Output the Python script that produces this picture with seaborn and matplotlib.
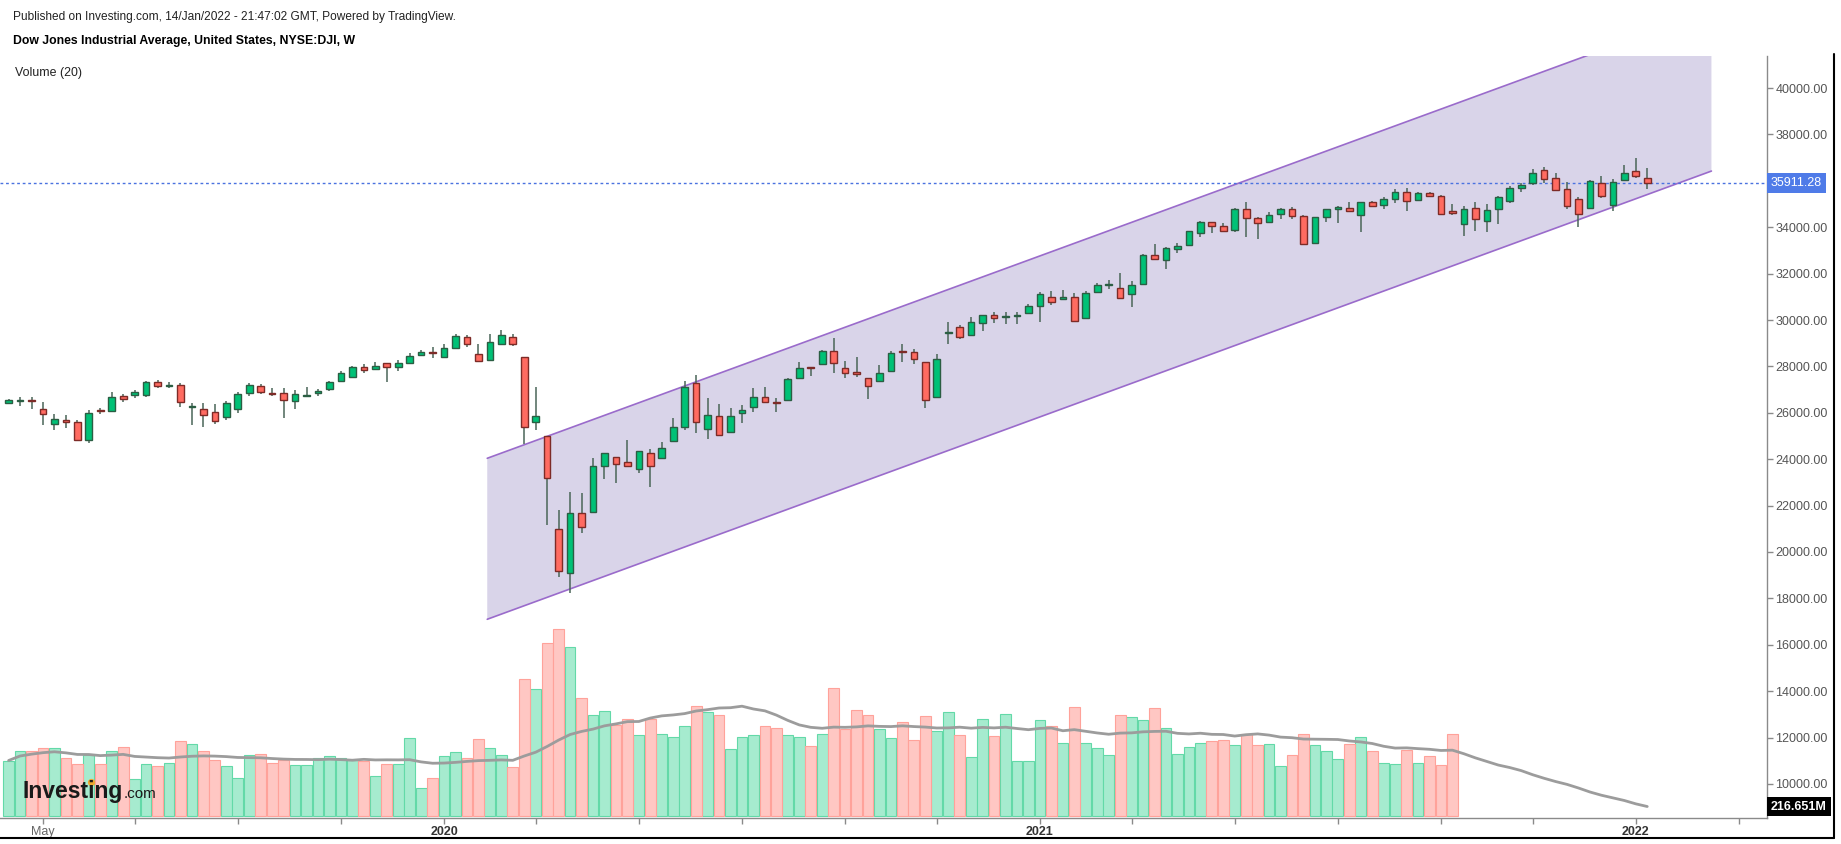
import numpy as np
import pandas as pd
import matplotlib
matplotlib.use('Agg')
from matplotlib import pyplot as plt
from matplotlib.patches import Polygon
from matplotlib.lines import Line2D
import matplotlib.transforms as mtrans
import seaborn as sns

sns.set_theme(style='white')
plt.rcParams['font.family'] = ['Liberation Sans', 'DejaVu Sans']

# weekly bars of the Dow, first bar = week of 15 Apr 2019
first_week = '2019-04-15'

opens = [26410, 26500, 26557, 26171, 25530, 25670, 25600, 24816, 26115, 26072,
         26714, 26785, 26785, 27342, 27150, 27199, 26243, 26171, 26043, 25815,
         26171, 26842, 27142, 26856, 26856, 26500, 26714, 26842, 27028, 27356,
         27556, 27984, 27884, 28126, 27955, 28126, 28483, 28626, 28426, 28811,
         29282, 28555, 28269, 28954, 29268, 28412, 25601, 24999, 20976, 19079,
         21694, 21709, 23720, 24108, 23864, 23562, 24252, 24066, 24798, 25373,
         27270, 25287, 25862, 25172, 25976, 26235, 26666, 26480, 26537, 27485,
         27988, 28103, 28678, 27945, 27773, 27514, 27370, 27816, 28664, 28606,
         28175, 26666, 29450, 29700, 29339, 29885, 30215, 30115, 30172, 30287,
         30603, 31005, 30890, 31005, 30071, 31192, 31494, 31393, 31106, 31537,
         32802, 32586, 33075, 33219, 33736, 34210, 34052, 33880, 34785, 34397,
         34239, 34569, 34785, 34498, 33305, 34426, 34771, 34828, 34526, 35072,
         34957, 35201, 35503, 35173, 35460, 35360, 34684, 34138, 34828, 34282,
         34771, 35144, 35675, 35891, 36466, 36135, 35661, 35216, 34813, 35891,
         34957, 36035, 36437, 36135]
highs = [26600, 26700, 26670, 26485, 25957, 25886, 25700, 26100, 26214, 26914,
         26814, 26985, 27385, 27413, 27342, 27299, 26443, 26443, 26386, 26528,
         26885, 27299, 27242, 27056, 27056, 26985, 27099, 27028, 27385, 27784,
         28012, 28098, 28169, 28140, 28269, 28598, 28697, 28840, 28983, 29382,
         29354, 28954, 29382, 29568, 29382, 28412, 27127, 25000, 21809, 22600,
         22528, 24036, 24252, 24108, 24827, 24353, 24424, 24755, 25761, 27370,
         27629, 26652, 26364, 26221, 26336, 27083, 27097, 26623, 27485, 28204,
         27988, 28707, 29210, 28247, 28391, 27514, 28060, 28678, 28965, 28735,
         28175, 28534, 29930, 29790, 30143, 30215, 30330, 30359, 30359, 30675,
         31192, 31264, 31293, 31149, 31250, 31580, 31724, 32040, 31695, 32850,
         33262, 33150, 33305, 33850, 34267, 34230, 34167, 34814, 35086, 34454,
         34641, 34814, 34857, 34520, 34460, 34800, 34914, 35072, 35101, 35130,
         35288, 35633, 35676, 35532, 35503, 35388, 35000, 34914, 35101, 35000,
         35345, 35776, 35891, 36495, 36581, 36351, 35963, 35288, 36035, 36207,
         36064, 36681, 36969, 36538]
lows = [26380, 26310, 26171, 25486, 25244, 25344, 24780, 24700, 25957, 26029,
        26485, 26628, 26671, 27056, 27071, 26243, 25486, 25386, 25529, 25672,
        26000, 26742, 26814, 26714, 25772, 26171, 26714, 26728, 26928, 27313,
        27498, 27698, 27855, 27313, 27784, 28098, 28455, 28355, 28412, 28783,
        28840, 28169, 28241, 28926, 28883, 24673, 25244, 21163, 18935, 18246,
        20803, 21709, 23131, 22959, 23720, 23419, 22815, 24066, 24798, 25258,
        25114, 24870, 25028, 25172, 25545, 26020, 26408, 26048, 26537, 27485,
        27586, 28060, 27701, 27485, 27528, 26580, 27370, 27816, 28204, 28089,
        26192, 26666, 28965, 29200, 29339, 29526, 29856, 29842, 29813, 30258,
        29928, 30646, 30862, 29928, 30043, 31192, 31336, 30934, 30574, 31500,
        32586, 32200, 32903, 33219, 33592, 33736, 33779, 33779, 33592, 33477,
        34210, 34354, 34354, 33230, 33270, 34239, 34167, 34655, 33808, 34885,
        34771, 35058, 34713, 35144, 35288, 34569, 34526, 33621, 33836, 33808,
        34124, 35058, 35532, 35819, 35891, 35589, 34770, 34023, 34813, 35273,
        34713, 36006, 36107, 35647]
closes = [26560, 26545, 26500, 25929, 25743, 25600, 24816, 25986, 26057, 26700,
          26585, 26899, 27342, 27142, 27200, 26457, 26290, 25886, 25643, 26442,
          26814, 27199, 26885, 26799, 26557, 26814, 26770, 26956, 27342, 27698,
          27984, 27841, 28027, 27984, 28126, 28455, 28640, 28569, 28783, 29311,
          28954, 28241, 29068, 29354, 28954, 25387, 25843, 23174, 19194, 21665,
          21062, 23720, 24252, 23778, 23720, 24353, 23720, 24497, 25373, 27126,
          25617, 25890, 25028, 25862, 26106, 26666, 26480, 26422, 27457, 27945,
          27931, 28678, 28132, 27701, 27658, 27169, 27701, 28592, 28606, 28319,
          26551, 28319, 29490, 29263, 29928, 30215, 30071, 30172, 30230, 30603,
          31120, 30790, 31005, 29971, 31149, 31508, 31552, 30934, 31494, 32801,
          32630, 33089, 33190, 33837, 34210, 34038, 33837, 34785, 34383, 34181,
          34541, 34785, 34483, 33262, 34440, 34785, 34871, 34684, 35072, 34914,
          35216, 35503, 35130, 35460, 35360, 34569, 34598, 34785, 34340, 34742,
          35316, 35704, 35805, 36351, 36078, 35589, 34914, 34569, 35992, 35345,
          35934, 36322, 36222, 35911.28]

# weekly volume in millions; no bars are printed after mid-Sep 2021
volumes = [1242, 1443, 1465, 1516, 1516, 1293, 1166, 1367, 1153, 1465,
           1539, 832, 1153, 1115, 1189, 1666, 1612, 1465, 1264, 1115,
           863, 1367, 1389, 1189, 1264, 1144, 1144, 1293, 1345, 1293,
           1264, 1220, 892, 1166, 1166, 1746, 631, 863, 1345, 1421,
           1300, 1717, 1516, 1367, 1093, 3062, 2839, 3865, 4177, 3775,
           2638, 2259, 2348, 2036, 2170, 1813, 2170, 1835, 1762, 2014,
           2460, 2313, 2259, 1501, 1762, 1813, 2014, 1969, 1813, 1762,
           1561, 1835, 2861, 1947, 2370, 2259, 1947, 1746, 2096, 1688,
           2230, 1902, 2313, 1813, 1316, 2163, 1784, 2281, 1233, 1233,
           2147, 2007, 1635, 2437, 1635, 1516, 1367, 2259, 2208, 2147,
           2415, 1974, 1389, 1539, 1635, 1666, 1710, 1590, 1835, 1590,
           1612, 1115, 1367, 1835, 1590, 1443, 1278, 1612, 1777, 1443,
           1189, 1166, 1487, 1189, 1345, 1144, 1835]

ma_len = 20
vol_ma_label = '216.651M'
last_price_label = '35911.28'
price_ticks = [10000, 12000, 14000, 16000, 18000, 20000, 22000, 24000, 26000,
               28000, 30000, 32000, 34000, 38000, 40000]
shown_x_labels = {(2019, 5): 'May', (2020, 1): '2020', (2021, 1): '2021', (2022, 1): '2022'}

# parallel channel drawn on the chart (week index, price)
chan_x = [41.77, 148.6]
chan_lower = [17100, 36420]
chan_upper = [24040, 43360]

# ---- frame ----
n = len(closes)
df = pd.DataFrame({'o': opens, 'h': highs, 'l': lows, 'c': closes})
df['x'] = np.arange(n)
df['up'] = df.c >= df.o
vol = np.zeros(n)
vol[:len(volumes)] = volumes
df['vol'] = vol
df['vol_ma'] = df.vol.rolling(ma_len, min_periods=1).mean()

W, H = 1841, 844
fig = plt.figure(figsize=(W / 100, H / 100), dpi=100)
fig.patch.set_facecolor('white')
pos = [0, (H - 818) / H, 1767 / W, (818 - 56) / H]
axv = fig.add_axes(pos)
ax = fig.add_axes(pos, sharex=axv)
ax.patch.set_alpha(0)

# volume pane
has_vol = df[df.vol > 0]
up, dn = has_vol[has_vol.up], has_vol[~has_vol.up]
axv.bar(up.x, up.vol, width=0.94, color='#a6ebcf', edgecolor='#63d9a8', lw=0.8)
axv.bar(dn.x, dn.vol, width=0.94, color='#ffc7c3', edgecolor='#ffa29a', lw=0.8)
sns.lineplot(x='x', y='vol_ma', data=df, ax=axv, color='#9c9c9c', lw=2.0, legend=False)
axv.set_ylim(-40, 16950)
axv.axis('off')

# channel
ax.add_patch(Polygon([(chan_x[0], chan_lower[0]), (chan_x[1], chan_lower[1]),
                      (chan_x[1], chan_upper[1]), (chan_x[0], chan_upper[0])],
                     closed=True, facecolor='#d9d4e9', edgecolor='none', zorder=1))
ax.plot(chan_x, chan_lower, color='#9a6bcb', lw=1.2, zorder=2)
ax.plot(chan_x, chan_upper, color='#9a6bcb', lw=1.2, zorder=2)

# candles
ax.vlines(df.x, df.l, df.h, color='#4a6658', lw=1.1, zorder=3)
body_lo = np.minimum(df.o, df.c)
body_h = np.abs(df.c - df.o)
ax.bar(df.x, body_h, bottom=body_lo, width=0.58,
       color=np.where(df.up, '#00c176', '#ff6b61'),
       edgecolor=np.where(df.up, '#2b5e43', '#7d2b27'), lw=1.0, zorder=4)

ax.axhline(closes[-1], color='#4a72e0', lw=1, ls=(0, (2, 2)), zorder=2)

ax.set_xlim(-0.75, 153.45)
ax.set_ylim(8534, 41380)

# axes styling
ax.yaxis.tick_right()
ax.set_yticks(price_ticks)
ax.set_yticklabels(['{:.2f}'.format(t) for t in price_ticks])
ax.tick_params(axis='y', direction='out', length=4, width=1, color='#8a8a8a',
               labelcolor='#555555', labelsize=9, pad=2, right=True, left=False)
for s in ['left', 'top']:
    ax.spines[s].set_visible(False)
for s in ['right', 'bottom']:
    ax.spines[s].set_color('#8a8a8a')
    ax.spines[s].set_linewidth(1)
ax.grid(False)

dates = pd.date_range(first_week, periods=160, freq='7D')
tick_pos, tick_lab = [], []
for i in range(1, len(dates)):
    if dates[i].month != dates[i - 1].month and dates[i].month % 2 == 1:
        tick_pos.append(i)
        tick_lab.append(shown_x_labels.get((dates[i].year, dates[i].month), ''))
ax.set_xticks(tick_pos)
ax.set_xticklabels(tick_lab)
ax.tick_params(axis='x', direction='out', length=4, width=1, color='#8a8a8a',
               labelsize=9, pad=2, bottom=True)
for lab in ax.get_xticklabels():
    if lab.get_text().isdigit():
        lab.set_fontweight('bold')
        lab.set_color('#333333')
    else:
        lab.set_color('#666666')
axv.set_xlim(-0.75, 153.45)

# value tags on the price scale
blend = mtrans.blended_transform_factory(ax.transAxes, ax.transData)
ax.text(1.0, closes[-1], last_price_label, ha='left', va='center', color='white', fontsize=9,
        transform=mtrans.offset_copy(blend, fig=fig, x=4, y=0, units='dots'),
        bbox=dict(boxstyle='square,pad=0.3', fc='#4f7be8', ec='none'), clip_on=False, zorder=10)
blend_v = mtrans.blended_transform_factory(ax.transAxes, axv.transData)
ax.text(1.0, df.vol_ma.iloc[-1], vol_ma_label, ha='left', va='center', color='white',
        fontsize=9, fontweight='bold',
        transform=mtrans.offset_copy(blend_v, fig=fig, x=4, y=0, units='dots'),
        bbox=dict(boxstyle='square,pad=0.3', fc='black', ec='none'), clip_on=False, zorder=10)

# header texts
fig.text(13 / W, 1 - 17 / H, 'Published on Investing.com, 14/Jan/2022 - 21:47:02 GMT, Powered by TradingView.',
         fontsize=8.6, color='#222222', va='center')
fig.text(13 / W, 1 - 41 / H, 'Dow Jones Industrial Average, United States, NYSE:DJI, W',
         fontsize=8.8, fontweight='bold', color='black', va='center')
fig.text(15 / W, 1 - 73 / H, 'Volume (20)', fontsize=8.9, color='#222222', va='center')

# watermark
r = fig.canvas.get_renderer()
base_y = 1 - 798 / H
t1 = fig.text(22 / W, base_y, 'Investing', fontsize=16.5, fontweight='bold',
              color='#1a1a1a', va='baseline')
bb = t1.get_window_extent(r)
fig.text((bb.x1 + 1) / W, base_y, '.com', fontsize=11, color='#1a1a1a', va='baseline')
tmp1 = fig.text(22 / W, base_y, 'Invest', fontsize=16.5, fontweight='bold', va='baseline')
tmp2 = fig.text(22 / W, base_y, 'Investi', fontsize=16.5, fontweight='bold', va='baseline')
w1 = tmp1.get_window_extent(r).width
w2 = tmp2.get_window_extent(r).width
tmp1.remove()
tmp2.remove()
dot_x = (bb.x0 + (w1 + w2) / 2) / W
fig.add_artist(Line2D([dot_x], [1 - 782 / H], marker='o', ms=4.2, color='#f0a830',
                      transform=fig.transFigure))

# outer frame
fig.add_artist(Line2D([0, 1834 / W], [1 - 838 / H, 1 - 838 / H], color='black', lw=1.5,
                      transform=fig.transFigure))
fig.add_artist(Line2D([1834 / W, 1834 / W], [1 - 838 / H, 1 - 54 / H], color='black', lw=1.5,
                      transform=fig.transFigure))

fig.savefig('out.png', dpi=100)
